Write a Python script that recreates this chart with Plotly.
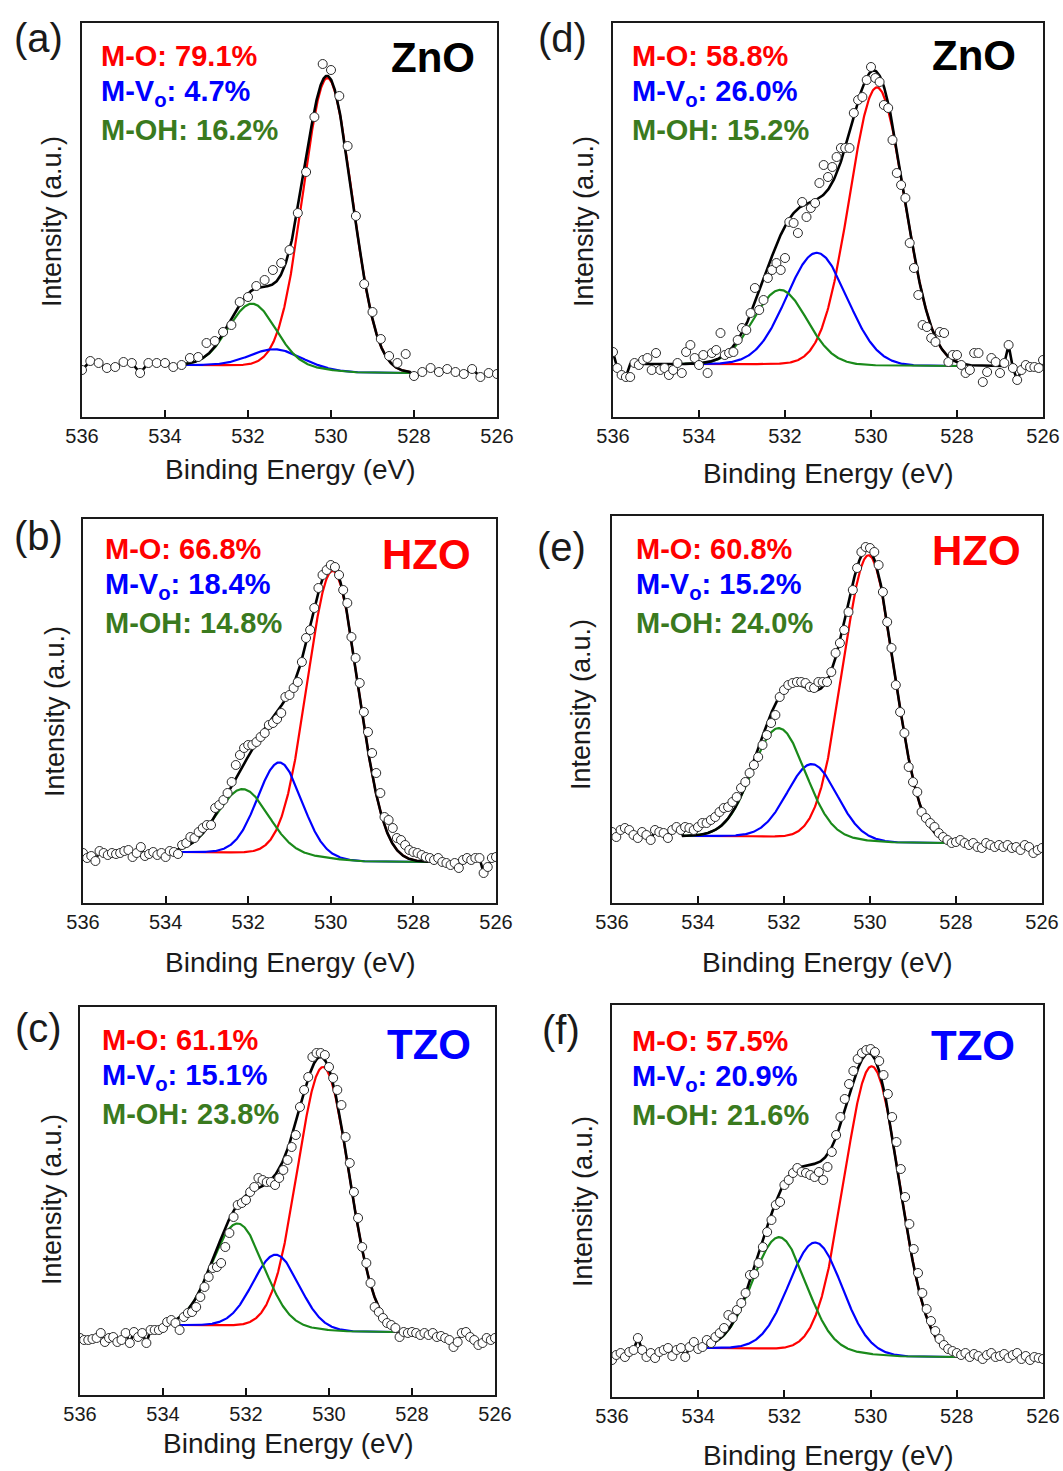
import numpy as np
import plotly.graph_objects as go

W, H = 1063, 1471

# Binding-energy grids of the O 1s scans (eV)
energy_coarse = np.round(np.linspace(536.0, 526.0, 51), 2)   # 0.2 eV step
energy_fine = np.round(np.linspace(536.0, 526.0, 101), 2)    # 0.1 eV step

# Measured O 1s intensities (a.u.), high BE -> low BE
counts_a = [47, 56, 54, 49, 50, 55, 54, 44, 54, 54, 54, 50, 52, 59, 60, 74, 76, 85, 92, 115,
            120, 131, 137, 147, 154, 167, 204, 245, 300, 353, 347, 321, 271, 201, 133, 105, 78, 61, 54, 63,
            41, 45, 49, 45, 48, 45, 43, 48, 40, 44, 43]
counts_b = [50, 45, 47, 42, 52, 50, 48, 50, 49, 50, 52, 53, 46, 50, 56, 47, 49, 51, 48, 50,
            46, 52, 51, 49, 58, 60, 66, 65, 71, 75, 78, 78, 95, 98, 103, 110, 121, 138, 148, 155,
            158, 158, 161, 166, 170, 178, 180, 184, 190, 206, 208, 215, 221, 241, 265, 273, 295, 315, 328, 333,
            338, 336, 328, 313, 300, 266, 245, 220, 191, 171, 150, 130, 110, 86, 83, 75, 65, 63, 58, 53,
            51, 50, 48, 46, 45, 43, 45, 41, 40, 38, 40, 35, 43, 45, 43, 45, 45, 30, 36, 45, 46]
counts_c = [57, 55, 55, 56, 57, 62, 53, 57, 58, 53, 55, 62, 52, 63, 58, 62, 52, 65, 65, 65,
            67, 73, 75, 72, 65, 78, 82, 83, 88, 98, 108, 118, 127, 128, 132, 148, 162, 178, 190, 192,
            195, 203, 208, 217, 215, 213, 213, 210, 217, 225, 235, 248, 260, 288, 305, 318, 338, 342, 342, 340,
            328, 317, 305, 290, 258, 232, 203, 177, 148, 132, 112, 88, 83, 77, 72, 70, 67, 58, 63, 62,
            63, 62, 60, 62, 60, 62, 58, 59, 57, 55, 48, 53, 62, 63, 58, 55, 50, 52, 57, 55, 57]
counts_d = [65, 49, 42, 40, 40, 54, 52, 57, 59, 47, 64, 47, 49, 42, 47, 54, 44, 65, 72, 59,
            52, 62, 44, 64, 67, 84, 62, 64, 65, 77, 89, 87, 104, 129, 107, 117, 139, 147, 154, 147,
            159, 195, 194, 184, 215, 200, 209, 214, 234, 252, 240, 250, 260, 269, 269, 269, 304, 317, 320, 337,
            350, 339, 335, 312, 309, 277, 244, 232, 219, 174, 149, 122, 92, 90, 79, 75, 85, 84, 55, 62,
            62, 52, 44, 47, 64, 64, 35, 45, 59, 55, 44, 54, 72, 49, 37, 47, 52, 50, 50, 49, 57]
counts_e = [71, 66, 73, 75, 73, 68, 65, 71, 68, 63, 73, 71, 70, 65, 73, 76, 73, 76, 75, 73,
            76, 80, 80, 83, 86, 91, 95, 96, 101, 106, 115, 121, 130, 138, 146, 158, 168, 180, 188, 206,
            213, 218, 220, 221, 221, 220, 216, 215, 221, 221, 221, 231, 250, 260, 273, 291, 313, 335, 351, 356,
            355, 351, 338, 311, 281, 255, 218, 191, 170, 136, 121, 111, 91, 85, 80, 76, 70, 66, 63, 60,
            61, 63, 60, 58, 60, 56, 55, 60, 58, 56, 58, 56, 58, 55, 56, 53, 58, 56, 50, 53, 55]
counts_f = [37, 42, 44, 40, 45, 47, 59, 47, 40, 44, 39, 45, 47, 49, 41, 47, 49, 40, 50, 55,
            48, 50, 57, 54, 60, 64, 69, 82, 79, 87, 94, 104, 122, 123, 134, 150, 165, 177, 192, 195,
            212, 217, 224, 229, 225, 224, 222, 220, 225, 217, 230, 245, 262, 280, 298, 313, 326, 338, 344, 347,
            348, 345, 336, 322, 303, 280, 255, 228, 200, 173, 148, 124, 104, 88, 76, 66, 58, 52, 48, 46,
            44, 42, 44, 40, 43, 41, 38, 42, 44, 40, 41, 43, 39, 42, 44, 38, 41, 37, 40, 39, 38]

# Fitted components, order: M-O, M-Vo, M-OH
share_a = [79.1, 4.7, 16.2]      # area fraction (%)
center_a = [530.08, 531.35, 531.90]
fwhm_a = [1.38, 1.40, 1.33]
share_b = [66.8, 18.4, 14.8]
center_b = [529.95, 531.24, 532.13]
fwhm_b = [1.45, 1.25, 1.45]
share_c = [61.1, 15.1, 23.8]
center_c = [530.14, 531.28, 532.20]
fwhm_c = [1.45, 1.30, 1.45]
share_d = [58.8, 26.0, 15.2]
center_d = [529.86, 531.26, 532.11]
fwhm_d = [1.50, 1.65, 1.45]
share_e = [60.8, 15.2, 24.0]
center_e = [530.03, 531.35, 532.12]
fwhm_e = [1.40, 1.35, 1.45]
share_f = [57.5, 20.9, 21.6]
center_f = [529.97, 531.28, 532.12]
fwhm_f = [1.50, 1.45, 1.45]

# Total fitted peak area and Shirley end levels (low-BE side, high-BE side)
area = {"a": 542, "b": 665, "c": 664, "d": 755, "e": 700, "f": 800}
background = {"a": [44, 52], "b": [41, 51], "c": [63, 70], "d": [51, 53], "e": [60, 67], "f": [40, 49]}
# Fit window for the components and for the envelope (eV)
fit_window = {"a": [528.1, 533.5], "b": [527.6, 533.7], "c": [528.4, 533.65],
              "d": [527.95, 534.4], "e": [528.2, 534.35], "f": [528.0, 534.0]}
envelope_window = {"a": [528.1, 533.5], "b": [527.6, 533.7], "c": [528.4, 533.65],
                   "d": [526.9, 535.6], "e": [528.2, 534.35], "f": [528.0, 534.0]}

samples = {"a": "ZnO", "b": "HZO", "c": "TZO", "d": "ZnO", "e": "HZO", "f": "TZO"}
sample_colors = {"ZnO": "#000000", "HZO": "#ff0000", "TZO": "#0000ff"}
component_names = ["M-O", "M-V<sub>o</sub>", "M-OH"]
component_colors = ["#ff0000", "#0000ff", "#1a8a1a"]
label_colors = ["#ff0000", "#0000ff", "#3a7a1e"]
tick_values = [536, 534, 532, 530, 528, 526]

data = {
    "a": (energy_coarse, counts_a, share_a, center_a, fwhm_a),
    "b": (energy_fine, counts_b, share_b, center_b, fwhm_b),
    "c": (energy_fine, counts_c, share_c, center_c, fwhm_c),
    "d": (energy_fine, counts_d, share_d, center_d, fwhm_d),
    "e": (energy_fine, counts_e, share_e, center_e, fwhm_e),
    "f": (energy_fine, counts_f, share_f, center_f, fwhm_f),
}

# Page placement of every panel (pixels)
place = {
    "a": dict(box=(82, 23, 497, 417), letter=(38, 38), label=(99, 56), name=(477, 58), xt=(290, 470), yt=(52, 222)),
    "b": dict(box=(83, 519, 496, 903), letter=(38, 536), label=(103, 549), name=(473, 554), xt=(290, 963), yt=(55, 712)),
    "c": dict(box=(80, 1007, 495, 1395), letter=(38, 1028), label=(100, 1040), name=(473, 1044), xt=(288, 1443), yt=(52, 1200)),
    "d": dict(box=(613, 23, 1043, 417), letter=(562, 38), label=(630, 56), name=(1018, 56), xt=(828, 473), yt=(584, 222)),
    "e": dict(box=(612, 516, 1042, 903), letter=(561, 547), label=(634, 549), name=(1023, 551), xt=(827, 962), yt=(581, 705)),
    "f": dict(box=(612, 1005, 1043, 1397), letter=(561, 1030), label=(630, 1041), name=(1017, 1045), xt=(828, 1455), yt=(583, 1202)),
}

FONT = "Arial, 'Liberation Sans', Helvetica, sans-serif"
GAUSS_AREA = np.sqrt(np.pi / (4 * np.log(2)))


def gaussian(x, c, w, h):
    return h * np.exp(-4 * np.log(2) * ((x - c) / w) ** 2)


fig = go.Figure()
annotations = []

for i, key in enumerate(["a", "b", "c", "d", "e", "f"]):
    n = i + 1
    xa = "x" if n == 1 else f"x{n}"
    ya = "y" if n == 1 else f"y{n}"
    energy, counts, share, center, fwhm = data[key]
    energy = np.asarray(energy)
    counts = np.asarray(counts, dtype=float)

    # Components on the envelope window
    lo, hi = envelope_window[key]
    grid = np.linspace(lo, hi, 600)
    heights = [s / 100 * area[key] / (GAUSS_AREA * w) for s, w in zip(share, fwhm)]
    comps = [gaussian(grid, c, w, h) for c, w, h in zip(center, fwhm, heights)]
    total = np.sum(comps, axis=0)
    # Shirley-type step: fraction of peak area lying at lower binding energy
    cum = np.concatenate([[0.0], np.cumsum(0.5 * (total[1:] + total[:-1]) * np.diff(grid))])
    frac = cum / cum[-1]
    low_lvl, high_lvl = background[key]
    bg = low_lvl + (high_lvl - low_lvl) * frac

    flo, fhi = fit_window[key]
    mask = (grid >= flo) & (grid <= fhi)
    for comp, col in zip(comps, component_colors):
        fig.add_trace(go.Scatter(x=grid[mask], y=(comp + bg)[mask], mode="lines",
                                 line=dict(color=col, width=2.2), xaxis=xa, yaxis=ya,
                                 showlegend=False, hoverinfo="skip"))

    # Envelope inside the window, raw trace outside
    left = energy < lo
    right = energy > hi
    env_x = np.concatenate([energy[left][::-1], grid, energy[right][::-1]])
    env_y = np.concatenate([counts[left][::-1], total + bg, counts[right][::-1]])
    fig.add_trace(go.Scatter(x=env_x, y=env_y, mode="lines", line=dict(color="#000000", width=2.6),
                             xaxis=xa, yaxis=ya, showlegend=False, hoverinfo="skip"))

    fig.add_trace(go.Scatter(x=energy, y=counts, mode="markers",
                             marker=dict(symbol="circle", size=9, color="white",
                                         line=dict(color="#2b2b2b", width=1)),
                             xaxis=xa, yaxis=ya, showlegend=False))

    p = place[key]
    x0, y0, x1, y1 = p["box"]
    fig.layout[f"xaxis{'' if n == 1 else n}"] = dict(
        domain=[x0 / W, x1 / W], anchor=ya, range=[536, 526], tickvals=tick_values,
        ticks="inside", ticklen=7, tickwidth=1.5, tickcolor="#111", automargin=False,
        showline=True, linewidth=2, linecolor="#1a1a1a", mirror=True,
        showgrid=False, zeroline=False, tickfont=dict(family=FONT, size=20, color="#1a1a1a"))
    fig.layout[f"yaxis{'' if n == 1 else n}"] = dict(
        domain=[1 - y1 / H, 1 - y0 / H], anchor=xa, range=[0, y1 - y0], automargin=False,
        showticklabels=False, ticks="", showline=True, linewidth=2, linecolor="#1a1a1a",
        mirror=True, showgrid=False, zeroline=False)

    def ann(text, px, py, size, color="#1a1a1a", bold=False, xanchor="center", angle=0):
        annotations.append(dict(
            text=f"<b>{text}</b>" if bold else text, x=px / W, y=1 - py / H,
            xref="paper", yref="paper", xanchor=xanchor, yanchor="middle", showarrow=False,
            textangle=angle, font=dict(family=FONT, size=size, color=color)))

    ann(f"({key})", *p["letter"], 40)
    lx, ly = p["label"]
    for j in range(3):
        ann(f"{component_names[j]}: {share[j]:.1f}%", lx, ly + 37 * j, 29, label_colors[j],
            bold=True, xanchor="left")
    sname = samples[key]
    ann(sname, *p["name"], 42, sample_colors[sname], bold=True, xanchor="right")
    ann("Binding Energy (eV)", *p["xt"], 28)
    ann("Intensity (a.u.)", *p["yt"], 27, angle=-90)

fig.update_layout(width=W, height=H, margin=dict(l=0, r=0, t=0, b=0, pad=0, autoexpand=False),
                  paper_bgcolor="white", plot_bgcolor="white", annotations=annotations)

fig.write_html("out.html")
